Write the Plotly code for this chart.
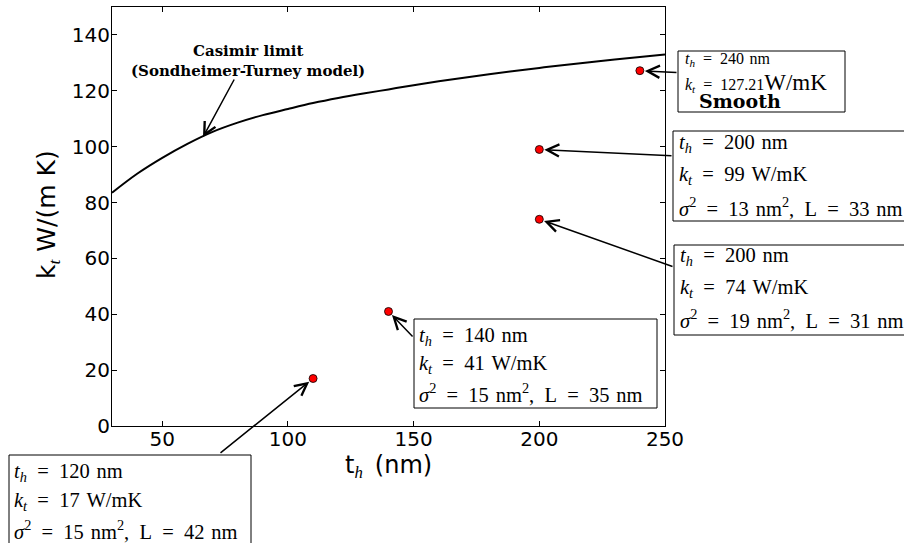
import plotly.graph_objects as go

# ---------------- data ----------------
curve_x = [30, 40, 50, 60, 70, 80, 90, 100, 110, 120, 130, 140, 150, 160, 170, 180, 190, 200, 210, 220, 230, 240, 250]
curve_y = [83.5, 90.3, 96.0, 101.0, 105.3, 108.6, 111.3, 113.5, 115.6, 117.4, 119.0, 120.5, 122.0, 123.4, 124.7, 125.9, 127.1, 128.2, 129.2, 130.2, 131.2, 132.1, 133.0]

pts_x = [240, 200, 200, 140, 110]
pts_y = [127.21, 99, 74, 41, 17]

x_ticks = [50, 100, 150, 200, 250]
y_ticks = [0, 20, 40, 60, 80, 100, 120, 140]

x_title = "t<sub><span style='font-family:Liberation Serif'><i>h</i></span></sub>\u2002(nm)"
y_title = "k<sub><span style='font-family:Liberation Serif'><i>t</i></span></sub> W/(m K)"

EQ = "\u2002=\u2002"
SP = "\u2004"
TH = "<i>t</i><sub><i>h</i></sub>"
KT = "<i>k</i><sub><i>t</i></sub>"
SG = "<i>\u03c3</i><sup>2</sup>"

box_lines = [
    [TH + EQ + "200" + SP + "nm", KT + EQ + "99" + SP + "W/mK", SG + EQ + "13" + SP + "nm<sup>2</sup>,\u2002L" + EQ + "33" + SP + "nm"],
    [TH + EQ + "200" + SP + "nm", KT + EQ + "74" + SP + "W/mK", SG + EQ + "19" + SP + "nm<sup>2</sup>,\u2002L" + EQ + "31" + SP + "nm"],
    [TH + EQ + "140" + SP + "nm", KT + EQ + "41" + SP + "W/mK", SG + EQ + "15" + SP + "nm<sup>2</sup>,\u2002L" + EQ + "35" + SP + "nm"],
    [TH + EQ + "120" + SP + "nm", KT + EQ + "17" + SP + "W/mK", SG + EQ + "15" + SP + "nm<sup>2</sup>,\u2002L" + EQ + "42" + SP + "nm"],
]
smooth_lines = [TH + EQ + "240" + SP + "nm",
                KT + EQ + "127.21<span style='font-size:23px'>W/mK</span>",
                "<b>Smooth</b>"]
casimir_lines = ["<b>Casimir limit</b>", "<b>(Sondheimer-Turney model)</b>"]

# ---------------- layout geometry (pixels) ----------------
W, H = 904, 543
L, R, T, B = 112, 665, 7, 426
XR = (30, 250)
YR = (0, 150)

def px(x):
    return (x - L) / (R - L)

def py(y):
    return (B - y) / (B - T)

def dx(x):
    return XR[0] + px(x) * (XR[1] - XR[0])

def dy(y):
    return YR[0] + py(y) * (YR[1] - YR[0])

fig = go.Figure()

fig.add_trace(go.Scatter(x=curve_x, y=curve_y, mode="lines",
                         line=dict(color="black", width=2, shape="spline"),
                         showlegend=False, hoverinfo="skip"))
fig.add_trace(go.Scatter(x=pts_x, y=pts_y, mode="markers",
                         marker=dict(color="red", size=8, line=dict(color="black", width=0.8)),
                         showlegend=False))

annotations = []
shapes = []

SERIF = "Liberation Serif"

box_geo = [
    ((673, 925, 131, 221), 677, [143.5, 175.0, 207.0]),
    ((674, 925, 245, 335), 678, [256.7, 288.3, 318.5]),
    ((414, 657, 319, 408), 417, [336.0, 364.5, 393.0]),
    ((9, 251, 455, 560), 12, [472.3, 501.7, 530.0]),
]
for (geo, tx, ys), lines in zip(box_geo, box_lines):
    x0, x1, y0, y1 = geo
    shapes.append(dict(type="rect", xref="paper", yref="paper",
                       x0=px(x0), x1=px(x1), y0=py(y0), y1=py(y1),
                       line=dict(color="black", width=1), fillcolor="white", layer="above"))
    for yy, t in zip(ys, lines):
        annotations.append(dict(xref="paper", yref="paper", x=px(tx), y=py(yy),
                                xanchor="left", yanchor="middle", text=t, showarrow=False,
                                font=dict(family=SERIF, size=20.5, color="black")))

# smooth box
shapes.append(dict(type="rect", xref="paper", yref="paper",
                   x0=px(678), x1=px(845), y0=py(51), y1=py(112),
                   line=dict(color="black", width=1), fillcolor="white", layer="above"))
annotations.append(dict(xref="paper", yref="paper", x=px(683), y=py(59), xanchor="left", yanchor="middle",
                        text=smooth_lines[0], showarrow=False, font=dict(family=SERIF, size=16, color="black")))
annotations.append(dict(xref="paper", yref="paper", x=px(683), y=py(82), xanchor="left", yanchor="middle",
                        text=smooth_lines[1], showarrow=False, font=dict(family=SERIF, size=16, color="black")))
annotations.append(dict(xref="paper", yref="paper", x=px(697), y=py(101), xanchor="left", yanchor="middle",
                        text=smooth_lines[2], showarrow=False, font=dict(family="DejaVu Serif", size=19, color="black")))

# casimir text
for yy, t in zip([51, 70.5], casimir_lines):
    annotations.append(dict(xref="paper", yref="paper", x=px(248), y=py(yy), xanchor="center", yanchor="middle",
                            text=t, showarrow=False, font=dict(family="DejaVu Serif", size=15, color="black")))

# arrows: tails in pixel positions, heads on the points
tails = [(678, 72.7), (673, 155.7), (674, 267), (414, 338), (219, 454)]
for (hx, hy), (tx, ty) in zip(zip(pts_x, pts_y), tails):
    annotations.append(dict(x=hx, y=hy, xref="x", yref="y", axref="x", ayref="y",
                            ax=dx(tx), ay=dy(ty), text="", showarrow=True,
                            arrowhead=5, arrowsize=1.6, arrowwidth=1.5, arrowcolor="black", standoff=5))
annotations.append(dict(x=dx(203), y=dy(137), xref="x", yref="y", axref="x", ayref="y",
                        ax=dx(235), ay=dy(78), text="", showarrow=True,
                        arrowhead=5, arrowsize=1.6, arrowwidth=1.5, arrowcolor="black", standoff=0))

# axis titles
annotations.append(dict(xref="paper", yref="paper", x=px(388), y=py(467), xanchor="center", yanchor="middle",
                        text=x_title, showarrow=False, font=dict(family="DejaVu Sans", size=24, color="black")))
annotations.append(dict(xref="paper", yref="paper", x=px(48), y=py(215), xanchor="center", yanchor="middle",
                        text=y_title, textangle=-90, showarrow=False,
                        font=dict(family="DejaVu Sans", size=25, color="black")))

axis_common = dict(showline=True, linecolor="black", linewidth=1, mirror="ticks",
                   ticks="inside", ticklen=5, tickwidth=1, tickcolor="black",
                   showgrid=False, zeroline=False,
                   tickfont=dict(family="DejaVu Sans", size=20, color="black"))

fig.update_layout(
    width=W, height=H, autosize=False,
    margin=dict(l=L, r=W - R, t=T, b=H - B, pad=0),
    paper_bgcolor="white", plot_bgcolor="white",
    xaxis=dict(range=list(XR), tickvals=x_ticks, ticktext=[str(v) for v in x_ticks],
               ticklabelstandoff=-5, **axis_common),
    yaxis=dict(range=list(YR), tickvals=y_ticks, ticktext=[str(v) for v in y_ticks],
               ticklabelstandoff=-3, **axis_common),
    annotations=annotations, shapes=shapes, showlegend=False,
)

fig.write_html("out.html", config={"displayModeBar": False},
               post_script="document.body.style.margin='0px';document.body.style.overflow='hidden';")
